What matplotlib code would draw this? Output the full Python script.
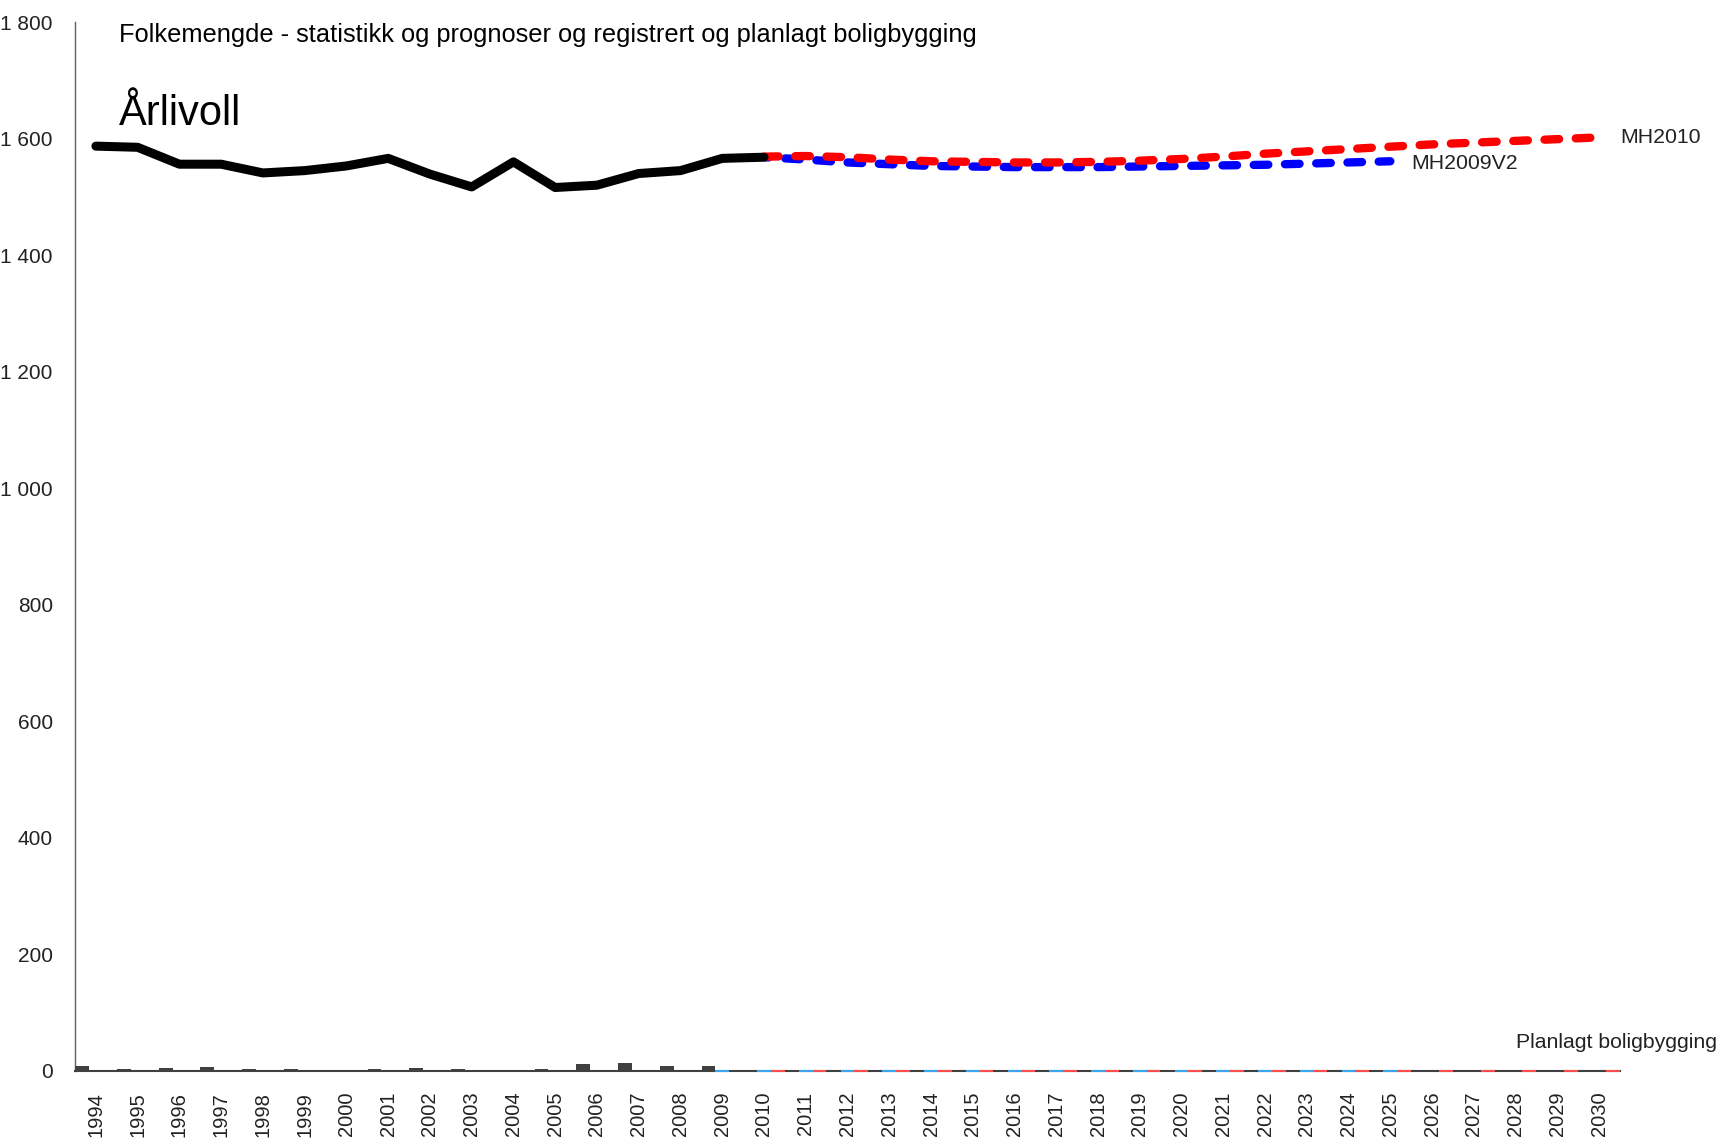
import numpy as np
import matplotlib.pyplot as plt
from matplotlib.ticker import FuncFormatter

plt.rcParams['font.family'] = ['Liberation Sans', 'DejaVu Sans']

# data
years = list(range(1994, 2031))
hist_years = list(range(1994, 2011))
hist_pop = [1587, 1585, 1556, 1556, 1541, 1545, 1553, 1566, 1539, 1517,
            1560, 1516, 1520, 1540, 1545, 1566, 1568]

mh2010_years = list(range(2010, 2031))
mh2010_pop = [1569, 1570, 1568, 1564, 1561, 1560, 1559, 1559, 1560, 1562,
              1565, 1569, 1574, 1578, 1582, 1586, 1590, 1593, 1596, 1599, 1602]

mh2009_years = list(range(2010, 2026))
mh2009_pop = [1568, 1564, 1559, 1556, 1553, 1552, 1551, 1551, 1551, 1552,
              1553, 1554, 1555, 1557, 1559, 1561]

reg_years = list(range(1994, 2010))
reg_built = [9, 3, 5, 7, 3, 3, 0, 3, 6, 3, 0, 3, 12, 14, 8, 8]

plan2009_years = list(range(2009, 2026))
plan2009 = [0] * len(plan2009_years)
plan2010_years = list(range(2010, 2031))
plan2010 = [0] * len(plan2010_years)

fig = plt.figure(figsize=(17.3, 11.45), dpi=100)
ax = fig.add_axes([75 / 1730, 1 - 1071 / 1145, (1620 - 75) / 1730, (1071 - 22) / 1145])

w = 0.33
# bars: registered + planned
ax.bar(np.array(reg_years) - w, reg_built, width=w, color='#404040', zorder=3)
ax.bar(plan2009_years, plan2009, width=w, color='#3aa6f0', edgecolor='#3aa6f0',
       linewidth=1.5, zorder=3, clip_on=False)
ax.bar(np.array(plan2010_years) + w, plan2010, width=w, color='#ff4d4d', edgecolor='#ff4d4d',
       linewidth=1.5, zorder=3, clip_on=False)

# population lines
ax.plot(hist_years, hist_pop, color='black', lw=6.5, solid_capstyle='round',
        solid_joinstyle='round', zorder=5)
ax.plot(mh2009_years, mh2009_pop, color='#0000ff', lw=6, linestyle=(1.2, (1.75, 2.0)),
        dash_capstyle='round', zorder=4)
ax.plot(mh2010_years, mh2010_pop, color='#ff0000', lw=6, dashes=(1.75, 2.0),
        dash_capstyle='round', zorder=4.5)

ax.text(2030.5, 1601, 'MH2010', fontsize=15.3, color='#222222', va='center', ha='left')
ax.text(2025.5, 1558, 'MH2009V2', fontsize=15.3, color='#222222', va='center', ha='left')
ax.text(2028.0, 49, 'Planlagt boligbygging', fontsize=15.3, color='#222222',
        va='center', ha='left', clip_on=False)

ax.set_xlim(1993.5, 2030.5)
ax.set_ylim(0, 1800)
ax.set_xticks(years)
ax.set_xticklabels([str(y) for y in years], rotation=90, fontsize=14.5, color='#222222')
ax.set_yticks(range(0, 1801, 200))
ax.yaxis.set_major_formatter(FuncFormatter(lambda v, p: f'{int(v):,}'.replace(',', ' ')))
ax.tick_params(axis='y', length=0, pad=16, labelsize=15, labelcolor='#222222')
ax.tick_params(axis='x', length=0, pad=15)

for s in ['top', 'right']:
    ax.spines[s].set_visible(False)
ax.spines['left'].set_color('#606060')
ax.spines['left'].set_linewidth(1)
ax.spines['bottom'].set_color('#404040')
ax.spines['bottom'].set_linewidth(1.5)

fig.text(119 / 1730, 1 - 35 / 1145,
         'Folkemengde - statistikk og prognoser og registrert og planlagt boligbygging',
         fontsize=18.3, va='center', ha='left')
fig.text(119 / 1730, 1 - 114 / 1145, 'Årlivoll', fontsize=30, va='center', ha='left')

fig.savefig('out.png', dpi=100)
